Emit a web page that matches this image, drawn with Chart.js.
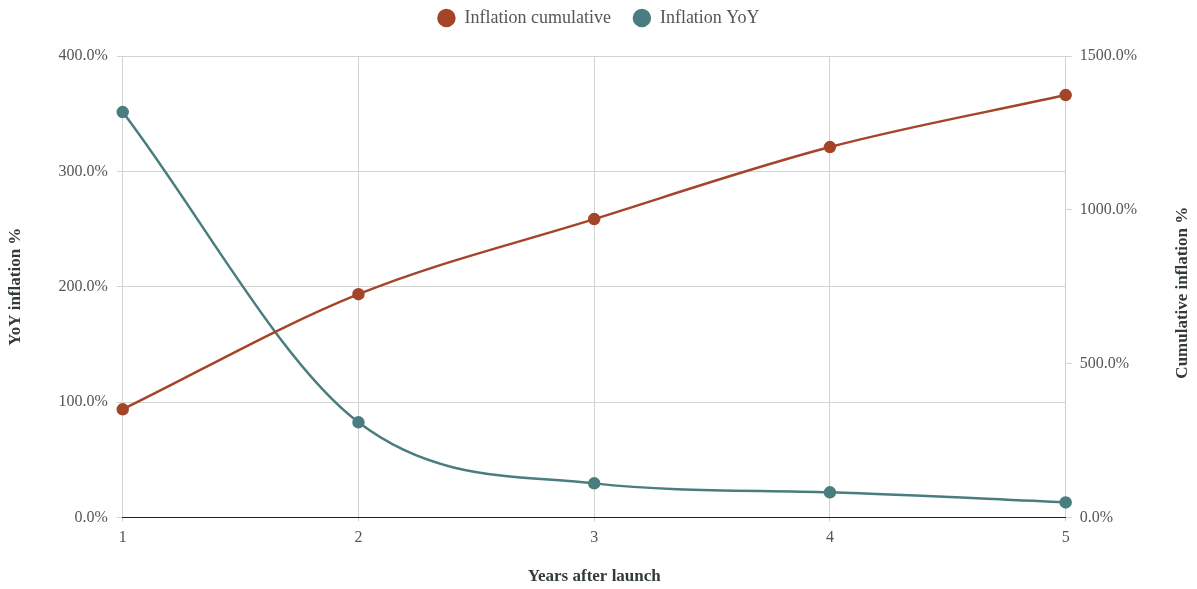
<!DOCTYPE html>
<html>
<head>
<meta charset="utf-8">
<script src="https://cdn.jsdelivr.net/npm/chart.js@4/dist/chart.umd.min.js"></script>
<style>
  html, body { margin: 0; padding: 0; background: #ffffff; }
  #wrap { width: 1197px; height: 589px; }
</style>
</head>
<body>
<div id="wrap"><canvas id="chart"></canvas></div>
<script>
// Years since launch
const years = ['1', '2', '3', '4', '5'];
// Year-over-year inflation, percent
const inflationYoY = [351.4, 82.4, 29.5, 21.7, 13.0];
// Cumulative inflation since launch, percent
const inflationCumulative = [351.4, 725.6, 969.7, 1204, 1373];

const cumulativeColor = '#a4452a';
const yoyColor = '#4a7d7f';
const tickColor = '#555555';
const titleColor = '#333a3d';
const serif = 'Liberation Serif';
const tickFont = { family: serif, size: 16 };
const titleFont = { family: serif, size: 17, weight: 'bold' };
const cumulativeTitle = 'Cumulative inflation %';
const pct = v => Number(v).toFixed(1) + '%';

// Right-hand axis title, written bottom-to-top like the left one
const rightTitle = {
  id: 'rightTitle',
  afterDraw(chart) {
    const { ctx, chartArea } = chart;
    ctx.save();
    ctx.translate(chart.width - 14, (chartArea.top + chartArea.bottom) / 2 + 6);
    ctx.rotate(-Math.PI / 2);
    ctx.font = `bold ${titleFont.size}px "${serif}"`;
    ctx.fillStyle = titleColor;
    ctx.textAlign = 'center';
    ctx.textBaseline = 'middle';
    ctx.fillText(cumulativeTitle, 0, 0);
    ctx.restore();
  }
};

// Extra space under the legend row
const legendGap = {
  id: 'legendGap',
  beforeInit(chart) {
    const fit = chart.legend.fit;
    chart.legend.fit = function () {
      fit.call(this);
      this.height += 19;
    };
  }
};

new Chart(document.getElementById('chart'), {
  type: 'line',
  data: {
    labels: years,
    datasets: [
      {
        label: 'Inflation cumulative',
        data: inflationCumulative,
        yAxisID: 'yCum',
        borderColor: cumulativeColor,
        backgroundColor: cumulativeColor,
        borderWidth: 2.5,
        pointRadius: 5,
        pointHoverRadius: 5,
        cubicInterpolationMode: 'monotone'
      },
      {
        label: 'Inflation YoY',
        data: inflationYoY,
        yAxisID: 'yYoY',
        borderColor: yoyColor,
        backgroundColor: yoyColor,
        borderWidth: 2.5,
        pointRadius: 5,
        pointHoverRadius: 5,
        cubicInterpolationMode: 'monotone'
      }
    ]
  },
  plugins: [rightTitle, legendGap],
  options: {
    responsive: true,
    maintainAspectRatio: false,
    animation: false,
    layout: { padding: { left: 0, right: 0, top: -13, bottom: 2 } },
    plugins: {
      tooltip: { enabled: false },
      legend: {
        position: 'top',
        labels: {
          usePointStyle: true,
          pointStyle: 'circle',
          boxWidth: 27,
          boxHeight: 11.3,
          padding: 22,
          color: tickColor,
          font: { family: serif, size: 18 }
        }
      }
    },
    scales: {
      x: {
        type: 'category',
        offset: false,
        grid: { color: '#d2d2d2', lineWidth: 1, tickLength: 4 },
        border: { display: true, color: '#222222', width: 1 },
        ticks: { color: tickColor, font: tickFont, padding: 7 },
        title: {
          display: true,
          text: 'Years after launch',
          color: titleColor,
          font: titleFont,
          padding: { top: 12, bottom: 0 }
        }
      },
      yYoY: {
        type: 'linear',
        position: 'left',
        min: 0,
        max: 400,
        ticks: { stepSize: 100, callback: pct, color: tickColor, font: tickFont, padding: 9 },
        grid: { color: '#d2d2d2', lineWidth: 1, tickLength: 6 },
        border: { display: false },
        title: {
          display: true,
          text: 'YoY inflation %',
          color: titleColor,
          font: titleFont,
          padding: { top: 5, bottom: 24 }
        }
      },
      yCum: {
        type: 'linear',
        position: 'right',
        min: 0,
        max: 1500,
        ticks: { stepSize: 500, callback: pct, color: tickColor, font: tickFont, padding: 8 },
        grid: { drawOnChartArea: false, color: '#d2d2d2', tickLength: 6 },
        border: { display: false },
        // room on the far right for the rotated axis title
        afterFit(scale) { scale.width += 52; }
      }
    }
  }
});
</script>
</body>
</html>
